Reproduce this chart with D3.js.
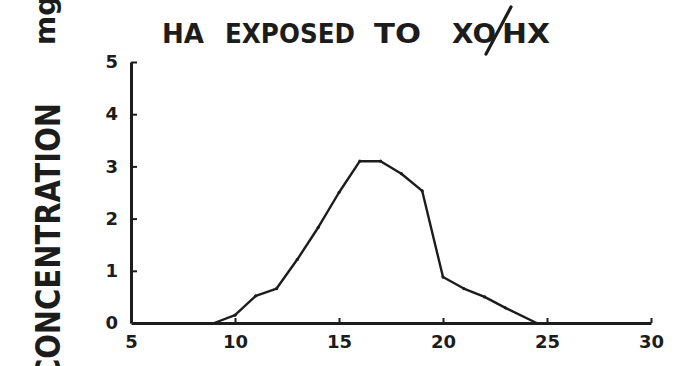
<!DOCTYPE html>
<html>
<head>
<meta charset="utf-8">
<script src="https://cdn.jsdelivr.net/npm/d3@7"></script>
<style>
  html, body { margin: 0; padding: 0; background: #fff; }
  svg { display: block; }
  text { font-family: "DejaVu Sans", sans-serif; font-weight: bold; fill: #1c1c1c; }
</style>
</head>
<body>
<svg id="chart" width="675" height="366"></svg>
<script>
// Elution profile: fraction number vs. concentration
const fractions      = [9, 10, 11, 12, 13, 14, 15, 16, 17, 18, 19, 20, 21, 22, 23, 24.5];
const concentrations = [0, 0.15, 0.52, 0.66, 1.22, 1.83, 2.5, 3.1, 3.1, 2.86, 2.53, 0.88, 0.66, 0.5, 0.29, 0];
const xTicks = [5, 10, 15, 20, 25, 30];
const yTicks = [0, 1, 2, 3, 4, 5];
const titleWords = ["HA", "EXPOSED", "TO", "XO", "HX"];
const yLabel = "CONCENTRATION";
const yUnit = "mg/ml";

const svg = d3.select("#chart");
const ink = "#1c1c1c";

const x = d3.scaleLinear().domain([5, 30]).range([131, 651]);
const y = d3.scaleLinear().domain([0, 5]).range([323, 62]);

// Axes with short inward ticks
const xAxis = d3.axisBottom(x).tickValues(xTicks).tickFormat(d3.format("d"))
  .tickSize(-5).tickSizeOuter(0).tickPadding(12);
const yAxis = d3.axisLeft(y).tickValues(yTicks).tickFormat(d3.format("d"))
  .tickSize(-6).tickSizeOuter(0).tickPadding(13);

const gx = svg.append("g").attr("transform", `translate(0,${y(0)})`).call(xAxis);
const gy = svg.append("g").attr("transform", `translate(${x(5)},0)`).call(yAxis);

[gx, gy].forEach(g => {
  g.select(".domain").attr("stroke", ink).attr("stroke-width", 3);
  g.selectAll(".tick line").attr("stroke", ink).attr("stroke-width", 2);
  g.selectAll(".tick text")
    .attr("fill", ink)
    .style("font-family", "'DejaVu Sans', sans-serif")
    .style("font-weight", "bold");
});
gx.selectAll(".tick text").style("font-size", "18px");
gy.selectAll(".tick text").style("font-size", "18px");
// no tick marks at the origin
gx.selectAll(".tick line").filter(d => d === 5).remove();
gy.selectAll(".tick line").filter(d => d === 0).remove();

// Data line
const line = d3.line().x((d, i) => x(fractions[i])).y(d => y(d));
svg.append("path")
  .datum(concentrations)
  .attr("fill", "none")
  .attr("stroke", ink)
  .attr("stroke-width", 2.4)
  .attr("stroke-linejoin", "round")
  .attr("d", line);

svg.append("g").selectAll("circle")
  .data(concentrations.slice(1, -1))
  .join("circle")
  .attr("cx", (d, i) => x(fractions[i + 1]))
  .attr("cy", d => y(d))
  .attr("r", 1.6)
  .attr("fill", ink);

// Title, word by word
const titlePos = [[162, 42], [225, 130], [374, 47], [452, 44], [502, 48]];
svg.append("g").selectAll("text")
  .data(titleWords)
  .join("text")
  .attr("x", (d, i) => titlePos[i][0])
  .attr("y", 43)
  .attr("textLength", (d, i) => titlePos[i][1])
  .attr("lengthAdjust", "spacingAndGlyphs")
  .style("font-size", "27px")
  .text(d => d);
// slanted separator between XO and HX
svg.append("line")
  .attr("x1", 511).attr("y1", 7).attr("x2", 486).attr("y2", 54)
  .attr("stroke", ink).attr("stroke-width", 3.2).attr("stroke-linecap", "round");

// Rotated axis title
svg.append("text")
  .attr("transform", "translate(60,103) rotate(-90)")
  .attr("text-anchor", "end")
  .attr("textLength", 277)
  .attr("lengthAdjust", "spacingAndGlyphs")
  .style("font-size", "33px")
  .text(yLabel);
svg.append("text")
  .attr("transform", "translate(55,45) rotate(-90)")
  .attr("text-anchor", "start")
  .style("font-size", "28px")
  .text(yUnit);
</script>
</body>
</html>
